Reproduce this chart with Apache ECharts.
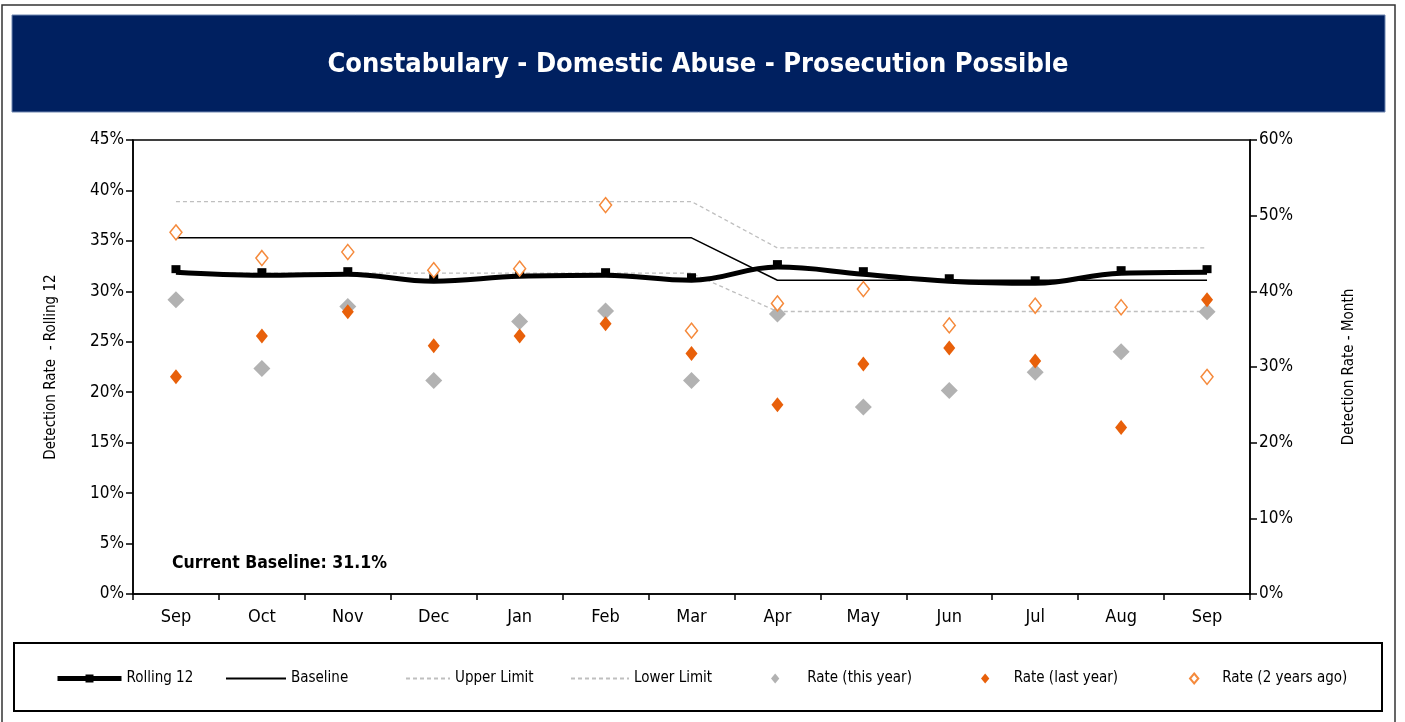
<!DOCTYPE html>
<html>
<head>
<meta charset="utf-8">
<script src="https://cdn.jsdelivr.net/npm/echarts@6/dist/echarts.min.js"></script>
<style>
html, body { margin: 0; padding: 0; background: #fff; }
#chart { width: 1405px; height: 722px; }
</style>
</head>
<body>
<div id="chart"></div>
<script>
// months along the bottom
const months = ['Sep', 'Oct', 'Nov', 'Dec', 'Jan', 'Feb', 'Mar', 'Apr', 'May', 'Jun', 'Jul', 'Aug', 'Sep'];

// left axis (rolling 12) values, in %
const rolling12 = [31.9, 31.6, 31.7, 31.0, 31.5, 31.6, 31.1, 32.4, 31.7, 31.0, 30.8, 31.8, 31.9];
const baseline = [35.3, 35.3, 35.3, 35.3, 35.3, 35.3, 35.3, 31.1, 31.1, 31.1, 31.1, 31.1, 31.1];
const upperLimit = [38.9, 38.9, 38.9, 38.9, 38.9, 38.9, 38.9, 34.3, 34.3, 34.3, 34.3, 34.3, 34.3];
const lowerLimit = [31.8, 31.8, 31.8, 31.8, 31.8, 31.8, 31.8, 28.0, 28.0, 28.0, 28.0, 28.0, 28.0];

// right axis (monthly) values, in %
const rateThisYear = [38.9, 29.8, 38.0, 28.2, 36.0, 37.4, 28.2, 37.0, 24.7, 26.9, 29.3, 32.0, 37.3];
const rateLastYear = [28.7, 34.1, 37.3, 32.8, 34.1, 35.7, 31.8, 25.0, 30.4, 32.5, 30.8, 22.0, 38.9];
const rate2YearsAgo = [47.8, 44.4, 45.2, 42.8, 43.0, 51.4, 34.8, 38.4, 40.3, 35.5, 38.1, 37.9, 28.7];

const leftTicks = { min: 0, max: 45, interval: 5 };
const rightTicks = { min: 0, max: 60, interval: 10 };

const FONT = '"Liberation Sans Narrow", "DejaVu Sans Condensed", "Liberation Sans", sans-serif';
const DIAMOND = 'path://M5,0L10,6L5,12L0,6Z';

let myChart = echarts.init(document.getElementById('chart'));

// one legend block per entry so each can sit where the original has it
function legendAt(name, x, iconW, iconH, extra) {
    return Object.assign({
        data: [name],
        left: x,
        top: 671,
        padding: 0,
        itemWidth: iconW,
        itemHeight: iconH,
        itemGap: 0,
        textStyle: { fontFamily: FONT, fontSize: 15, color: '#000' },
        selectedMode: false
    }, extra || {});
}

let option = {
    backgroundColor: '#fff',
    animation: false,
    graphic: [
        {
            type: 'rect', z: -10,
            shape: { x: 2, y: 5, width: 1393, height: 730 },
            style: { fill: '#fff', stroke: '#333', lineWidth: 1.5 }
        },
        {
            type: 'rect', z: -9,
            shape: { x: 12, y: 15, width: 1373, height: 97 },
            style: { fill: '#002060', stroke: '#6f86b0', lineWidth: 1 }
        },
        {
            type: 'text', z: 10,
            x: 698, y: 65,
            style: {
                text: 'Constabulary - Domestic Abuse - Prosecution Possible',
                fill: '#fff',
                font: 'bold 27px ' + FONT,
                align: 'center',
                verticalAlign: 'middle'
            }
        },
        {
            type: 'text', z: 10,
            x: 172, y: 563,
            style: {
                text: 'Current Baseline: 31.1%',
                fill: '#000',
                font: 'bold 17.5px ' + FONT,
                align: 'left',
                verticalAlign: 'middle'
            }
        },
        {
            type: 'rect', z: -8,
            shape: { x: 14, y: 643, width: 1368, height: 68 },
            style: { fill: '#fff', stroke: '#000', lineWidth: 2 }
        }
    ],
    legend: [
        legendAt('Rolling 12', 55, 64, 10, { lineStyle: { width: 5 }, itemStyle: { opacity: 1 } }),
        legendAt('Baseline', 225, 60, 10, { itemStyle: { opacity: 0 } }),
        legendAt('Upper Limit', 405, 44, 10, { itemStyle: { opacity: 0 } }),
        legendAt('Lower Limit', 570, 58, 10, { itemStyle: { opacity: 0 } }),
        legendAt('Rate (this year)', 771, 54, 10, { icon: DIAMOND }),
        legendAt('Rate (last year)', 981, 47, 10, { icon: DIAMOND }),
        legendAt('Rate (2 years ago)', 1189, 46, 10, { icon: DIAMOND })
    ],
    grid: {
        left: 133,
        right: 155,
        top: 140,
        bottom: 128,
        show: true,
        borderColor: '#000',
        borderWidth: 1.5
    },
    xAxis: {
        type: 'category',
        data: months,
        boundaryGap: true,
        axisLine: { lineStyle: { color: '#000', width: 1.5 } },
        axisTick: { show: true, length: 6, lineStyle: { color: '#000', width: 1.5 } },
        axisLabel: { color: '#000', fontFamily: FONT, fontSize: 18, margin: 14 }
    },
    yAxis: [
        {
            type: 'value',
            min: leftTicks.min,
            max: leftTicks.max,
            interval: leftTicks.interval,
            name: 'Detection Rate  - Rolling 12',
            nameLocation: 'middle',
            nameGap: 74,
            nameRotate: 90,
            nameTextStyle: { color: '#000', fontFamily: FONT, fontSize: 15 },
            axisLine: { show: true, lineStyle: { color: '#000', width: 1.5 } },
            axisTick: { show: true, length: 7, lineStyle: { color: '#000', width: 1.5 } },
            axisLabel: { color: '#000', fontFamily: FONT, fontSize: 17, margin: 9, formatter: '{value}%' },
            splitLine: { show: false }
        },
        {
            type: 'value',
            position: 'right',
            min: rightTicks.min,
            max: rightTicks.max,
            interval: rightTicks.interval,
            name: 'Detection Rate - Month',
            nameLocation: 'middle',
            nameGap: 92,
            nameRotate: 90,
            nameTextStyle: { color: '#000', fontFamily: FONT, fontSize: 15 },
            axisLine: { show: true, lineStyle: { color: '#000', width: 1.5 } },
            axisTick: { show: true, length: 7, lineStyle: { color: '#000', width: 1.5 } },
            axisLabel: { color: '#000', fontFamily: FONT, fontSize: 17, margin: 9, formatter: '{value}%' },
            splitLine: { show: false }
        }
    ],
    series: [
        {
            name: 'Upper Limit',
            type: 'line',
            yAxisIndex: 0,
            data: upperLimit,
            symbol: 'none',
            lineStyle: { color: '#bfbfbf', width: 1.3, type: [4, 3] },
            itemStyle: { color: '#bfbfbf' },
            z: 2
        },
        {
            name: 'Lower Limit',
            type: 'line',
            yAxisIndex: 0,
            data: lowerLimit,
            symbol: 'none',
            lineStyle: { color: '#bfbfbf', width: 1.3, type: [4, 3] },
            itemStyle: { color: '#bfbfbf' },
            z: 2
        },
        {
            name: 'Baseline',
            type: 'line',
            yAxisIndex: 0,
            data: baseline,
            symbol: 'none',
            lineStyle: { color: '#000', width: 1.5 },
            itemStyle: { color: '#000' },
            z: 3
        },
        {
            name: 'Rolling 12',
            type: 'line',
            yAxisIndex: 0,
            data: rolling12,
            smooth: 0.4,
            symbol: 'rect',
            symbolSize: [9, 8],
            symbolOffset: [0, -3],
            lineStyle: { color: '#000', width: 5 },
            itemStyle: { color: '#000' },
            z: 4
        },
        {
            name: 'Rate (this year)',
            type: 'scatter',
            yAxisIndex: 1,
            data: rateThisYear,
            symbol: 'diamond',
            symbolSize: [17, 17],
            itemStyle: { color: '#b2b2b2', opacity: 1 },
            z: 5
        },
        {
            name: 'Rate (last year)',
            type: 'scatter',
            yAxisIndex: 1,
            data: rateLastYear,
            symbol: 'diamond',
            symbolSize: [12, 15],
            itemStyle: { color: '#e8600a', opacity: 1 },
            z: 6
        },
        {
            name: 'Rate (2 years ago)',
            type: 'scatter',
            yAxisIndex: 1,
            data: rate2YearsAgo,
            symbol: 'diamond',
            symbolSize: [12, 15],
            itemStyle: { color: '#fff', borderColor: '#f58a3c', borderWidth: 1.5, opacity: 1 },
            z: 7
        }
    ]
};

myChart.setOption(option);
window.addEventListener('resize', function () {
    myChart.resize();
});
</script>
</body>
</html>
